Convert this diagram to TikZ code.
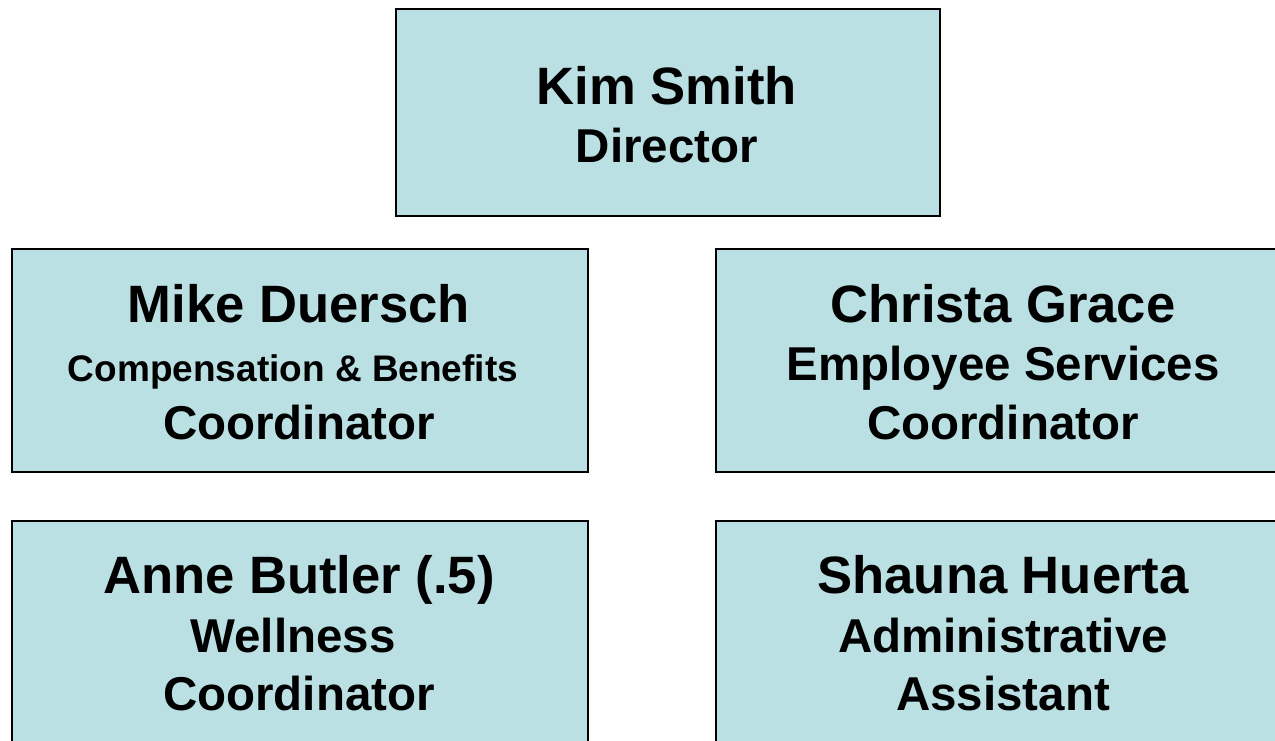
\documentclass[tikz,border=0pt]{standalone}
\usepackage{fontspec}
\setmainfont{Liberation Sans}
\definecolor{boxfill}{HTML}{BBE0E3}
\begin{document}
\begin{tikzpicture}[x=0.5pt,y=-0.5pt,
 orgbox/.style={draw=black, line width=1pt, fill=boxfill, rectangle, inner sep=0pt, anchor=north west},
 nm/.style={anchor=base, font=\fontsize{26.3}{30}\selectfont\bfseries, inner sep=0pt},
 tl/.style={anchor=base, font=\fontsize{23.75}{28}\selectfont\bfseries, inner sep=0pt},
 sm/.style={anchor=base, font=\fontsize{18.5}{22}\selectfont\bfseries, inner sep=0pt}]
\useasboundingbox (0,0) rectangle (1275,740);
\clip (0,0) rectangle (1275,740);
% boxes
\node[orgbox, minimum width=272pt, minimum height=103.5pt] (kim) at (394.5,7.5) {};
\node[orgbox, minimum width=288pt, minimum height=111.5pt] (mike) at (10.5,247.5) {};
\node[orgbox, minimum width=288pt, minimum height=111.5pt] (christa) at (714.5,247.5) {};
\node[orgbox, minimum width=288pt, minimum height=111.5pt] (anne) at (10.5,519.5) {};
\node[orgbox, minimum width=288pt, minimum height=111.5pt] (shauna) at (714.5,519.5) {};
% texts
\node[nm] (kimname) at (667,104) {Kim Smith};
\node[tl] (kimtitle) at (667,162) {Director};
\node[nm] (mikename) at (299,322) {Mike Duersch};
\node[sm] (miketitle) at (293,381) {Compensation \& Benefits};
\node[tl] (mikerole) at (299,439) {Coordinator};
\node[nm] (christaname) at (1003,322) {Christa Grace};
\node[tl] (christatitle) at (1003,380) {Employee Services};
\node[tl] (christarole) at (1003,439) {Coordinator};
\node[nm] (annename) at (299,593) {Anne Butler (.5)};
\node[tl] (annetitle) at (293,652) {Wellness};
\node[tl] (annerole) at (299,710) {Coordinator};
\node[nm] (shaunaname) at (1003,593) {Shauna Huerta};
\node[tl] (shaunatitle) at (1003,652) {Administrative};
\node[tl] (shaunarole) at (1003,710) {Assistant};
\end{tikzpicture}
\end{document}
